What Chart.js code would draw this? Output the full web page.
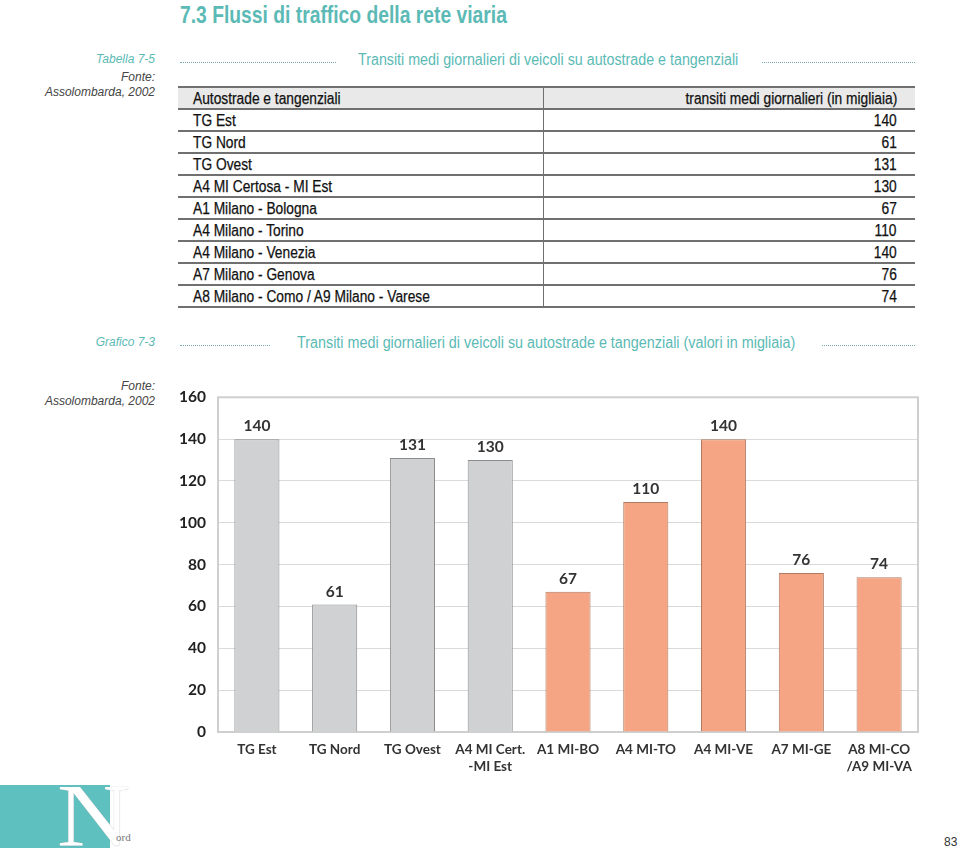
<!DOCTYPE html>
<html lang="it">
<head>
<meta charset="utf-8">
<title>7.3 Flussi di traffico della rete viaria</title>
<script src="https://cdn.jsdelivr.net/npm/chart.js@4.4.1/dist/chart.umd.min.js"></script>
<style>
  html, body { margin: 0; padding: 0; background: #fff; }
  body { width: 960px; height: 852px; position: relative; overflow: hidden;
         font-family: "Liberation Sans", Arial, sans-serif; color: #222; }
  .fit { display: inline-block; transform-origin: left center; white-space: nowrap; }
  h1 { position: absolute; left: 180px; top: 1px; margin: 0; font-size: 24px; font-weight: bold;
       color: #5bbab5; white-space: nowrap; }
  .side { position: absolute; right: 805px; text-align: right;
          font-style: italic; font-size: 12px; line-height: 15px; white-space: nowrap; }
  .side.label { color: #5bbab5; }
  .side.src { color: #444; }
  .title { position: absolute; font-size: 16px; color: #5bbab5; white-space: nowrap; }
  .dots { position: absolute; height: 0; border-top: 1px dotted #7aa; }
  table { position: absolute; left: 178px; top: 86px; width: 737px; border-collapse: collapse;
          font-size: 16px; table-layout: fixed; color: #111; }
  td { height: 20px; padding: 0 0 0 15px; border-top: 2px solid #707070; line-height: 19px; overflow: hidden; white-space: nowrap; }
  tr:last-child td { border-bottom: 2px solid #707070; }
  td .n { display: inline-block; transform: scaleX(0.86); transform-origin: left center; -webkit-text-stroke: 0.25px #111; }
  td.v { text-align: right; padding: 0 18px 0 0; border-left: 1px solid #707070; }
  td.v .n { transform-origin: right center; }
  tr.head td { background: #e9e9e9; }
  #chartBox { position: absolute; left: 170px; top: 376px; width: 760px; height: 409px; }
  #logo { position: absolute; left: 0; top: 785px; width: 110px; height: 63px; background: #5fc0c0; }
  #logoN { position: absolute; left: 57px; top: 772px; font-family: "Liberation Serif", "DejaVu Serif", serif;
           font-size: 88px; line-height: 88px; color: #fff; text-shadow: 0 0 1px #aaa;
           transform: scaleX(1.15); transform-origin: left center; }
  #logoOrd { position: absolute; left: 116px; top: 831px; font-family: "Liberation Serif", serif; font-size: 11px; color: #777; }
  #page { position: absolute; left: 944px; top: 835px; font-size: 12px; color: #333; }
</style>
</head>
<body>
<h1><span class="fit" data-w="327">7.3 Flussi di traffico della rete viaria</span></h1>

<div class="side label" style="top:52px">Tabella 7-5</div>
<div class="side src" style="top:70px">Fonte:<br>Assolombarda, 2002</div>
<div class="dots" style="left:180px; width:156px; top:62px"></div>
<div class="title" style="left:358px; top:51px"><span class="fit" data-w="380">Transiti medi giornalieri di veicoli su autostrade e tangenziali</span></div>
<div class="dots" style="left:762px; width:153px; top:62px"></div>

<table id="tab"><colgroup><col style="width:365px"><col></colgroup><tbody id="tabBody"></tbody></table>

<div class="side label" style="top:335px">Grafico 7-3</div>
<div class="side src" style="top:379px">Fonte:<br>Assolombarda, 2002</div>
<div class="dots" style="left:180px; width:90px; top:345px"></div>
<div class="title" style="left:297px; top:334px"><span class="fit" data-w="498">Transiti medi giornalieri di veicoli su autostrade e tangenziali (valori in migliaia)</span></div>
<div class="dots" style="left:822px; width:93px; top:345px"></div>

<div id="chartBox"><canvas id="trafficChart"></canvas></div>

<div id="logo"></div>
<div id="logoN">N</div>
<div id="logoOrd">ord</div>
<div id="page">83</div>

<script>
// Tabella 7-5 / Grafico 7-3 - dati Assolombarda 2002 (migliaia di transiti)
var tableHeader = ['Autostrade e tangenziali', 'transiti medi giornalieri (in migliaia)'];
var tableNames = ['TG Est', 'TG Nord', 'TG Ovest', 'A4 MI Certosa - MI Est', 'A1 Milano - Bologna',
                  'A4 Milano - Torino', 'A4 Milano - Venezia', 'A7 Milano - Genova',
                  'A8 Milano - Como / A9 Milano - Varese'];
var chartLabels = ['TG Est', 'TG Nord', 'TG Ovest', ['A4 MI Cert.', '-MI Est'], 'A1 MI-BO',
                   'A4 MI-TO', 'A4 MI-VE', 'A7 MI-GE', ['A8 MI-CO', '/A9 MI-VA']];
var transiti = [140, 61, 131, 130, 67, 110, 140, 76, 74];
var tangenziale = [true, true, true, true, false, false, false, false, false];
var yTicks = [0, 20, 40, 60, 80, 100, 120, 140, 160];

// condensed look: squeeze headings to their width in the print
document.querySelectorAll('.fit').forEach(function(el) {
  var w = parseFloat(el.getAttribute('data-w'));
  el.style.transform = 'scaleX(' + (w / el.offsetWidth) + ')';
});

// build the table from the same arrays
var html = '<tr class="head"><td><span class="n">' + tableHeader[0] + '</span></td><td class="v"><span class="n">' + tableHeader[1] + '</span></td></tr>';
tableNames.forEach(function(n, i) {
  html += '<tr><td><span class="n">' + n + '</span></td><td class="v"><span class="n">' + transiti[i] + '</span></td></tr>';
});
document.getElementById('tabBody').innerHTML = html;

// value labels above the bars
var valueLabels = {
  id: 'valueLabels',
  afterDatasetsDraw: function(chart) {
    var ctx = chart.ctx;
    var meta = chart.getDatasetMeta(0);
    ctx.save();
    ctx.font = 'bold 15.5px Lato, sans-serif';
    ctx.fillStyle = '#333';
    ctx.textAlign = 'center';
    ctx.textBaseline = 'bottom';
    meta.data.forEach(function(bar, i) {
      ctx.fillText(transiti[i], bar.x, bar.y - 5);
    });
    ctx.restore();
  }
};

// light frame round the plot area
var plotFrame = {
  id: 'plotFrame',
  beforeDatasetsDraw: function(chart) {
    var a = chart.chartArea;
    var ctx = chart.ctx;
    ctx.save();
    ctx.strokeStyle = '#cfcfcf';
    ctx.lineWidth = 2;
    ctx.strokeRect(a.left, a.top, a.right - a.left, a.bottom - a.top);
    ctx.restore();
  }
};

new Chart(document.getElementById('trafficChart'), {
  type: 'bar',
  data: {
    labels: chartLabels,
    datasets: [{
      data: transiti,
      backgroundColor: tangenziale.map(function(t) { return t ? '#d0d1d3' : '#f5a584'; }),
      borderColor: tangenziale.map(function(t) { return t ? '#8c8c8c' : '#b07a62'; }),
      borderWidth: 1,
      barPercentage: 0.58,
      categoryPercentage: 1
    }]
  },
  options: {
    responsive: true,
    maintainAspectRatio: false,
    animation: false,
    layout: { padding: { top: 12, right: 12, left: 0, bottom: 0 } },
    plugins: { legend: { display: false }, tooltip: { enabled: false } },
    scales: {
      x: {
        grid: { display: false, drawTicks: false },
        border: { color: '#c8c8c8', width: 1 },
        ticks: { color: '#333', font: { family: 'Lato', weight: 'bold', size: 13.5 }, padding: 10, maxRotation: 0 },
        afterFit: function(s) { s.height = 53; }
      },
      y: {
        min: 0,
        max: 160,
        afterBuildTicks: function(s) { s.ticks = yTicks.map(function(v) { return { value: v }; }); },
        grid: { color: '#dadada', lineWidth: 1, drawTicks: false },
        border: { display: false },
        ticks: { color: '#222', font: { family: 'Lato', weight: 'bold', size: 15.5 }, padding: 12 },
        afterFit: function(s) { s.width = 48; }
      }
    }
  },
  plugins: [plotFrame, valueLabels]
});
</script>
</body>
</html>
